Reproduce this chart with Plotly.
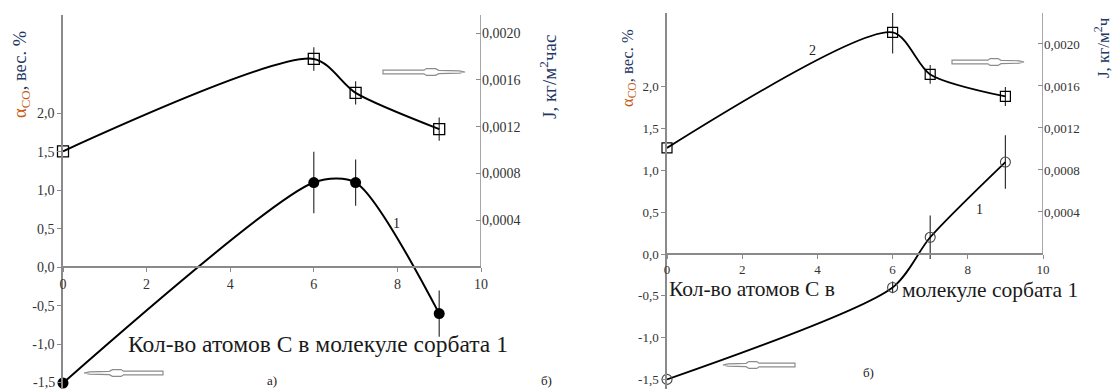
import plotly.graph_objects as go

W, H = 1113, 389

# ---------------- data ----------------
carbons = [0, 6, 7, 9]

# panel a
flux_a = [0.00099, 0.00178, 0.00149, 0.00118]
flux_a_err = [0, 0.0001, 0.0001, 0.0001]
alpha_a = [-1.5, 1.1, 1.1, -0.6]
alpha_a_err = [0, 0.4, 0.3, 0.3]

# panel b
flux_b = [0.00101, 0.00211, 0.00171, 0.00150]
flux_b_err = [0, 0.0002, 0.00009, 0.00009]
alpha_b = [-1.5, -0.4, 0.2, 1.1]
alpha_b_err = [0, 0.07, 0.26, 0.32]

x_ticks = [0, 2, 4, 6, 8, 10]
x_ticktext = ["0", "2", "4", "6", "8", "10"]
alpha_ticks = [-1.5, -1.0, -0.5, 0.0, 0.5, 1.0, 1.5, 2.0]
alpha_ticktext = ["-1,5", "-1,0", "-0,5", "0,0", "0,5", "1,0", "1,5", "2,0"]
flux_ticks = [0.0004, 0.0008, 0.0012, 0.0016, 0.0020]
flux_ticktext = ["0,0004", "0,0008", "0,0012", "0,0016", "0,0020"]

xlabel_full = "Кол-во атомов С в молекуле сорбата 1"
xlabel_b1 = "Кол-во атомов С в"
xlabel_b2 = "молекуле сорбата 1"
left_title = "<span style='color:#c55a11'>α<sub>CO</sub></span>, вес. %"
right_title_a = "J, кг/м<sup>2</sup>час"
right_title_b = "J, кг/м<sup>2</sup>ч"

# ---------------- helpers (pixel -> paper) ----------------
def X(px):
    return px / W

def Y(py):
    return 1 - py / H

SERIF = "Liberation Serif, Times New Roman, Times, serif"
AXC = "#8a8a8a"
TXC = "#333333"
SMOOTH = 0.75

# axis ranges derived from the picture's pixel geometry
a_left = [-1.578, 3.273]
a_right = [-0.001044, 0.002156]
b_left = [-1.615, 2.883]
b_right = [-0.001286, 0.002295]

fig = go.Figure()

err_kw = dict(type="data", thickness=1.2, width=0, color="#333333")

# panel a
fig.add_trace(go.Scatter(
    x=carbons, y=flux_a, xaxis="x", yaxis="y2", mode="lines+markers",
    line=dict(color="black", width=2, shape="spline", smoothing=SMOOTH),
    marker=dict(symbol="square-open", size=11, color="black", line=dict(width=1.3)),
    error_y=dict(array=flux_a_err, **err_kw), showlegend=False, cliponaxis=False))
fig.add_trace(go.Scatter(
    x=carbons, y=alpha_a, xaxis="x", yaxis="y", mode="lines+markers",
    line=dict(color="black", width=2, shape="spline", smoothing=SMOOTH),
    marker=dict(symbol="circle", size=11, color="black"),
    error_y=dict(array=alpha_a_err, **err_kw), showlegend=False, cliponaxis=False))

# panel b
fig.add_trace(go.Scatter(
    x=carbons, y=flux_b, xaxis="x2", yaxis="y4", mode="lines+markers",
    line=dict(color="black", width=1.8, shape="spline", smoothing=SMOOTH),
    marker=dict(symbol="square-open", size=10, color="black", line=dict(width=1.2)),
    error_y=dict(array=flux_b_err, **err_kw), showlegend=False, cliponaxis=False))
fig.add_trace(go.Scatter(
    x=carbons, y=alpha_b, xaxis="x2", yaxis="y3", mode="lines+markers",
    line=dict(color="black", width=1.8, shape="spline", smoothing=SMOOTH),
    marker=dict(symbol="circle-open", size=10, color="#444444", line=dict(width=1.1)),
    error_y=dict(array=alpha_b_err, **err_kw), showlegend=False, cliponaxis=False))

tickfont_a = dict(family=SERIF, size=14, color=TXC)
tickfont_b = dict(family=SERIF, size=13, color=TXC)

def xaxis_def(domain, pos, font):
    return dict(domain=domain, range=[0, 10], anchor="free", position=pos,
                tickvals=x_ticks, ticktext=x_ticktext, automargin=False,
                ticks="outside", ticklen=4, tickcolor=AXC, showline=True,
                linecolor=AXC, linewidth=1.5, showgrid=False, zeroline=False,
                tickfont=font)

def yleft(domain, rng, anchor, font):
    return dict(domain=domain, range=rng, anchor=anchor, automargin=False,
                tickvals=alpha_ticks, ticktext=alpha_ticktext, ticks="outside",
                ticklen=4, tickcolor=AXC, showline=True, linecolor=AXC,
                linewidth=1.5, showgrid=False, zeroline=False, tickfont=font)

def yright(domain, rng, anchor, over, font):
    return dict(domain=domain, range=rng, anchor=anchor, overlaying=over,
                side="right", tickvals=flux_ticks, ticktext=flux_ticktext,
                automargin=False, ticks="inside", ticklen=5, tickcolor=AXC,
                showline=False, showgrid=False, zeroline=False, tickfont=font)

fig.update_layout(
    width=W, height=H, margin=dict(l=0, r=0, t=0, b=0, autoexpand=False),
    paper_bgcolor="white", plot_bgcolor="rgba(0,0,0,0)",
    xaxis=xaxis_def([X(63), X(481)], Y(267), tickfont_a),
    xaxis2=xaxis_def([X(667), X(1043)], Y(254), tickfont_b),
    yaxis=yleft([0, Y(15)], a_left, "x", tickfont_a),
    yaxis2=yright([0, Y(15)], a_right, "x", "y", tickfont_a),
    yaxis3=yleft([0, Y(13)], b_left, "x2", tickfont_b),
    yaxis4=yright([0, Y(13)], b_right, "x2", "y3", tickfont_b),
)

shapes = []
# right axis lines (only from 0 upward)
shapes.append(dict(type="line", xref="x", yref="y2", x0=10, x1=10,
                   y0=0, y1=a_right[1], line=dict(color=AXC, width=1.5)))
shapes.append(dict(type="line", xref="x2", yref="y4", x0=10, x1=10,
                   y0=0, y1=b_right[1], line=dict(color=AXC, width=1.5)))

def arrow(xa_, xb_, yc, right=True):
    L = xb_ - xa_
    if right:
        t0, s = xa_, 1
    else:
        t0, s = xb_, -1
    def p(f):
        return t0 + s * f * L
    pts = [(p(0), yc - 1.8), (p(0.50), yc - 1.8), (p(0.53), yc - 3.4),
           (p(0.64), yc - 3.4), (p(0.68), yc - 1.7), (p(0.93), yc - 1.2),
           (p(1.0), yc), (p(0.93), yc + 1.2), (p(0.68), yc + 1.7),
           (p(0.64), yc + 3.4), (p(0.53), yc + 3.4), (p(0.50), yc + 1.8),
           (p(0), yc + 1.8)]
    path = "M " + " L ".join(f"{X(a):.5f},{Y(b):.5f}" for a, b in pts) + " Z"
    return dict(type="path", xref="paper", yref="paper", path=path,
                fillcolor="white", line=dict(color="#8c8c8c", width=1.2))

shapes.append(arrow(383, 465, 72, right=True))
shapes.append(arrow(84, 163, 373, right=False))
shapes.append(arrow(952, 1024, 62, right=True))
shapes.append(arrow(723, 795, 365, right=False))
fig.update_layout(shapes=shapes)

ann = []
def text(px, py, s, size, color="#222222", angle=0):
    ann.append(dict(x=X(px), y=Y(py), xref="paper", yref="paper", text=s,
                    showarrow=False, textangle=angle, xanchor="center",
                    yanchor="middle", font=dict(family=SERIF, size=size, color=color)))

text(318, 344, xlabel_full, 23.5, color="#1a1a1a")
text(752, 289, xlabel_b1, 21.5, color="#1a1a1a")
text(990, 290, xlabel_b2, 21.5, color="#1a1a1a")
text(21, 75, left_title, 18.5, color="#1f3864", angle=-90)
text(628, 68, left_title, 16.5, color="#1f3864", angle=-90)
text(548, 77, right_title_a, 19, color="#1f3864", angle=-90)
text(1102, 48, right_title_b, 17, color="#1f3864", angle=-90)
text(396, 223, "1", 14)
text(812, 51, "2", 14)
text(979, 209, "1", 14)
text(272, 380, "а)", 13)
text(868, 372, "б)", 13)
text(546, 380, "б)", 13)

# lowest left tick label of panel a sits at the page edge; plotly drops it, so add it as text
ann.append(dict(x=X(57), y=alpha_ticks[0], xref="paper", yref="y",
                text=alpha_ticktext[0], showarrow=False, xanchor="right",
                yanchor="middle", font=tickfont_a))
fig.update_layout(annotations=ann)

fig.write_html(
    "out.html",
    config={"displayModeBar": False},
    post_script="document.body.style.margin='0';document.body.style.overflow='hidden';",
)
